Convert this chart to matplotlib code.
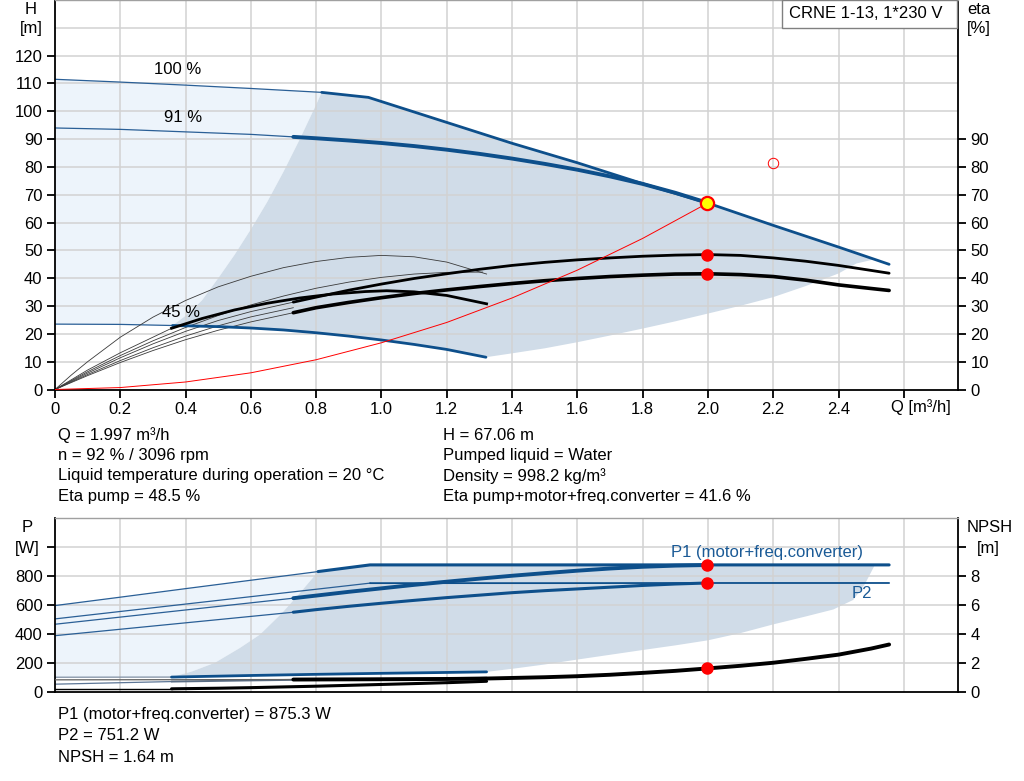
import matplotlib
matplotlib.use('Agg')
import matplotlib.pyplot as plt
from matplotlib.patches import Rectangle

plt.rcParams['font.family'] = ['Liberation Sans', 'DejaVu Sans']

# ---------------- data : top panel (H [m] / eta [%] vs Q [m3/h]) ----------------
q_h100 = [0, 0.2, 0.4, 0.6, 0.817, 0.96, 1.2, 1.4, 1.6, 1.8, 2.0, 2.2, 2.4, 2.555]
h_h100 = [111.5, 110.5, 109.4, 108.2, 106.8, 105.0, 96.0, 88.5, 81.5, 74.0, 67.0, 59.0, 51.2, 45.0]
n_thin_h100 = 5

q_h91 = [0, 0.2, 0.4, 0.6, 0.73, 0.8, 0.9, 1.0, 1.1, 1.2, 1.3, 1.4, 1.5, 1.6, 1.7, 1.8, 1.9, 2.0]
h_h91 = [94.0, 93.5, 92.6, 91.7, 90.8, 90.3, 89.5, 88.6, 87.5, 86.2, 84.7, 83.0, 81.1, 79.0, 76.6, 73.9, 70.7, 67.06]
n_thin_h91 = 5

q_h45 = [0, 0.2, 0.36, 0.5, 0.6, 0.7, 0.8, 0.9, 1.0, 1.1, 1.2, 1.32]
h_h45 = [23.5, 23.4, 23.0, 22.6, 22.1, 21.4, 20.4, 19.2, 17.8, 16.2, 14.4, 11.6]
n_thin_h45 = 3

# operating area boundaries (top)
q_area_left = [0.36, 0.40, 0.45, 0.50, 0.55, 0.60, 0.65, 0.70, 0.75, 0.80, 0.817]
h_area_left = [23.0, 26.5, 32.0, 40.0, 48.4, 57.6, 67.4, 78.3, 90.0, 102.4, 106.8]
q_area_right = [2.51, 2.455, 2.4, 2.3, 2.2, 2.1, 2.0, 1.9, 1.8, 1.7, 1.6, 1.5, 1.4]
h_area_right = [46.8, 45.3, 41.7, 37.2, 33.2, 30.1, 27.3, 24.5, 21.9, 19.4, 17.0, 14.8, 13.0]

# efficiency curves
q_eta45_pump = [0, 0.05, 0.1, 0.2, 0.3, 0.4, 0.5, 0.6, 0.7, 0.8, 0.9, 1.0, 1.1, 1.2, 1.322]
e_eta45_pump = [0, 5.2, 10.0, 18.8, 26.0, 32.0, 36.9, 40.7, 43.8, 46.0, 47.5, 48.2, 47.7, 45.8, 41.5]

q_eta45_tot_thin = [0, 0.1, 0.2, 0.3, 0.357]
e_eta45_tot_thin = [0, 7.0, 13.2, 18.8, 22.0]
q_eta45_tot = [0.357, 0.45, 0.55, 0.65, 0.75, 0.85, 0.95, 1.016, 1.1, 1.2, 1.322]
e_eta45_tot = [22.0, 25.5, 28.6, 31.0, 32.9, 34.3, 35.2, 35.5, 35.1, 33.8, 30.8]

q_eta91_pump_thin = [0, 0.1, 0.2, 0.3, 0.4, 0.5, 0.6, 0.73]
e_eta91_pump_thin = [0, 5.9, 11.4, 16.4, 20.9, 24.8, 28.0, 31.4]
q_eta91_pump = [0.73, 0.8, 0.9, 1.0, 1.1, 1.2, 1.3, 1.4, 1.5, 1.6, 1.7, 1.8, 1.9, 2.0,
                2.1, 2.2, 2.3, 2.4, 2.5, 2.555]
e_eta91_pump = [31.4, 33.2, 35.7, 37.9, 39.9, 41.6, 43.2, 44.6, 45.7, 46.6, 47.3, 47.9, 48.3, 48.5,
                48.2, 47.3, 46.1, 44.6, 42.8, 41.8]

q_eta91_tot_thin = [0, 0.1, 0.2, 0.3, 0.4, 0.5, 0.6, 0.73]
e_eta91_tot_thin = [0, 5.0, 9.7, 14.0, 17.9, 21.3, 24.3, 27.6]
q_eta91_tot = [0.73, 0.8, 0.9, 1.0, 1.1, 1.2, 1.3, 1.4, 1.5, 1.6, 1.7, 1.8, 1.9, 2.0,
               2.1, 2.2, 2.3, 2.4, 2.5, 2.555]
e_eta91_tot = [27.6, 29.4, 31.3, 33.0, 34.5, 35.8, 37.0, 38.1, 39.1, 39.9, 40.6, 41.1, 41.5, 41.6,
               41.3, 40.6, 39.3, 37.6, 36.3, 35.6]

q_eta_aux1 = [0, 0.1, 0.2, 0.3, 0.4, 0.5, 0.6, 0.7, 0.8, 0.9, 1.0, 1.1, 1.2, 1.31]
e_eta_aux1 = [0, 6.4, 12.2, 17.5, 22.3, 26.6, 30.4, 33.6, 36.4, 38.6, 40.3, 41.5, 42.1, 42.2]
q_eta_aux2 = [0, 0.1, 0.2, 0.3, 0.4, 0.5, 0.6, 0.73]
e_eta_aux2 = [0, 5.4, 10.4, 15.0, 19.2, 22.9, 26.1, 29.4]

# system curve
q_sys = [0, 0.2, 0.4, 0.6, 0.8, 1.0, 1.2, 1.4, 1.6, 1.8, 2.0]
h_sys = [0, 0.7, 2.7, 6.0, 10.7, 16.8, 24.1, 32.9, 42.9, 54.3, 67.06]

# duty point
q_duty = 1.997
h_duty = 67.06
eta_pump_duty = 48.5
eta_tot_duty = 41.6
q_open = 2.2
h_open = 81.5

# ---------------- data : bottom panel (P [W] / NPSH [m]) ----------------
q_p1_100 = [0, 0.2, 0.4, 0.6, 0.806, 0.965, 1.5, 2.0, 2.555]
p_p1_100 = [595, 653, 712, 770, 830, 876, 876, 876, 876]
n_thin_p1_100 = 5

q_p2_100 = [0, 0.965, 1.5, 2.0, 2.555]
p_p2_100 = [503, 750, 750, 751, 751]
n_thin_p2_100 = 2

q_p1_91 = [0, 0.73, 0.8, 0.9, 1.0, 1.1, 1.2, 1.3, 1.4, 1.5, 1.6, 1.7, 1.8, 1.9, 2.0]
p_p1_91 = [466, 646, 664, 690, 714, 738, 760, 781, 801, 819, 836, 851, 863, 871, 875.3]
n_thin_p1_91 = 2

q_p2_91 = [0, 0.73, 0.8, 0.9, 1.0, 1.1, 1.2, 1.3, 1.4, 1.5, 1.6, 1.7, 1.8, 1.9, 2.0]
p_p2_91 = [387, 549, 567, 590, 611, 631, 650, 667, 684, 698, 710, 722, 734, 744, 751.2]
n_thin_p2_91 = 2

q_p1_45 = [0, 0.357, 0.6, 0.8, 1.0, 1.2, 1.322]
p_p1_45 = [100, 101, 112, 120, 127, 133, 137]
n_thin_p1_45 = 2

q_p2_45 = [0, 0.357, 0.6, 0.8, 1.0, 1.2, 1.322]
p_p2_45 = [52, 70, 78, 84, 89, 94, 97]
n_thin_p2_45 = 2

q_npsh45 = [0, 0.357, 0.5, 0.6, 0.7, 0.8, 0.9, 1.0, 1.1, 1.21, 1.322]
npsh45 = [0.2, 0.2, 0.24, 0.28, 0.33, 0.38, 0.44, 0.5, 0.56, 0.63, 0.72]
n_thin_npsh45 = 2

q_npsh91 = [0, 0.73, 1.0, 1.2, 1.3, 1.4, 1.5, 1.6, 1.7, 1.8, 1.9, 2.0, 2.1, 2.2, 2.3, 2.4, 2.5, 2.555]
npsh91 = [0.82, 0.84, 0.86, 0.88, 0.9, 0.95, 1.0, 1.07, 1.17, 1.3, 1.44, 1.61, 1.79, 2.0, 2.27, 2.56, 2.98, 3.26]
n_thin_npsh91 = 2

q_parea_left = [0.357, 0.42, 0.49, 0.567, 0.628, 0.694, 0.745, 0.791, 0.806]
p_parea_left = [101, 140, 200, 303, 395, 540, 668, 790, 830]
q_parea_right = [2.51, 2.48, 2.445, 2.384, 2.3, 2.2, 2.1, 2.0, 1.9, 1.8, 1.7, 1.6, 1.5, 1.4]
p_parea_right = [870, 740, 634, 568, 520, 465, 405, 355, 320, 288, 255, 222, 188, 158]

p1_duty = 875.3
p2_duty = 751.2
npsh_duty = 1.64

# ---------------- styling ----------------
BLUE = '#0d4f8b'
THIN_BLUE = '#2a5f96'
LIGHT = '#edf4fb'
DARK = '#d0dce8'
GRID = '#d2d2d2'
FS = 12

W, HPX = 1024, 781
def fx(px):
    return px / W
def fy(py):
    return 1 - py / HPX

fig = plt.figure(figsize=(10.24, 7.81), dpi=100)

def style_axes(a):
    a.spines['top'].set_color('#a0a0a0')
    a.spines['top'].set_linewidth(1.0)
    for s in ('left', 'right', 'bottom'):
        a.spines[s].set_color('black')
        a.spines[s].set_linewidth(1.3)
    a.set_axisbelow(True)

# ================= TOP PANEL =================
ax = fig.add_axes([fx(55), fy(389.5), fx(958) - fx(55), 389.5 / HPX])
ax.set_xlim(0, 2.766)
ax.set_ylim(0, 140)
style_axes(ax)

xt = [0, 0.2, 0.4, 0.6, 0.8, 1.0, 1.2, 1.4, 1.6, 1.8, 2.0, 2.2, 2.4, 2.6]
xtl = ['0', '0.2', '0.4', '0.6', '0.8', '1.0', '1.2', '1.4', '1.6', '1.8', '2.0', '2.2', '2.4', '']
ax.set_xticks(xt)
ax.set_xticklabels(xtl)
ax.set_yticks(list(range(0, 121, 10)))
ax.tick_params(direction='out', length=6, width=1.3, labelsize=FS, pad=3, colors='black')
for x in xt[1:]:
    ax.axvline(x, color=GRID, lw=1.1, zorder=0.5)
for y in range(10, 131, 10):
    ax.axhline(y, color=GRID, lw=1.1, zorder=0.5)

# light area
lq = q_h100[:n_thin_h100] + q_area_left[::-1] + q_h45[:n_thin_h45][::-1]
lh = h_h100[:n_thin_h100] + h_area_left[::-1] + h_h45[:n_thin_h45][::-1]
ax.fill(lq, lh, color=LIGHT, lw=0, zorder=0.2)
# operating area
dq = q_area_left + q_h100[n_thin_h100:-1] + q_area_right + q_h45[n_thin_h45 - 1:][::-1]
dh = h_area_left + h_h100[n_thin_h100:-1] + h_area_right + h_h45[n_thin_h45 - 1:][::-1]
ax.fill(dq, dh, color=DARK, lw=0, zorder=0.3)

def split_plot(a, q, v, n, color, thin_color, lw, thin_lw=0.9, z=3):
    a.plot(q[:n], v[:n], color=thin_color, lw=thin_lw, zorder=2)
    a.plot(q[n - 1:], v[n - 1:], color=color, lw=lw, zorder=z,
           solid_capstyle='round', solid_joinstyle='round')

# H curves
split_plot(ax, q_h100, h_h100, n_thin_h100, BLUE, THIN_BLUE, 2.0)
split_plot(ax, q_h91, h_h91, n_thin_h91, BLUE, THIN_BLUE, 2.8)
split_plot(ax, q_h45, h_h45, n_thin_h45, BLUE, THIN_BLUE, 2.0)

# eta curves
thin_k = dict(color='#3a3a3a', lw=0.6, zorder=2)
ax.plot(q_eta45_pump, e_eta45_pump, **thin_k)
ax.plot(q_eta_aux1, e_eta_aux1, **thin_k)
ax.plot(q_eta_aux2, e_eta_aux2, **thin_k)
ax.plot(q_eta45_tot_thin, e_eta45_tot_thin, **thin_k)
ax.plot(q_eta91_pump_thin, e_eta91_pump_thin, **thin_k)
ax.plot(q_eta91_tot_thin, e_eta91_tot_thin, **thin_k)
ax.plot(q_eta45_tot, e_eta45_tot, color='black', lw=2.0, zorder=3, solid_joinstyle='round')
ax.plot(q_eta91_pump, e_eta91_pump, color='black', lw=2.0, zorder=3,
        solid_capstyle='round', solid_joinstyle='round')
ax.plot(q_eta91_tot, e_eta91_tot, color='black', lw=2.6, zorder=3,
        solid_capstyle='round', solid_joinstyle='round')

# system curve
ax.plot(q_sys, h_sys, color='red', lw=0.7, zorder=3.5)

# points
ax.plot([q_duty], [h_duty], 'o', ms=9.5, mfc='#ffff00', mec='red', mew=1.6, zorder=6)
ax.plot([q_duty, q_duty], [eta_pump_duty, eta_tot_duty], 'o', ms=8, color='red', mec='red', zorder=6)
ax.plot([q_open], [h_open], 'o', ms=7.5, mfc='none', mec='red', mew=0.7, zorder=6)

# right eta axis
ax2 = ax.twinx()
ax2.set_ylim(0, 140)
ax2.set_yticks(list(range(0, 91, 10)))
ax2.tick_params(direction='out', length=6, width=1.3, labelsize=FS, pad=3)
for s in ax2.spines.values():
    s.set_visible(False)

# curve labels
fig.text(fx(178), fy(70), '100 %', ha='center', va='center', fontsize=FS)
fig.text(fx(183), fy(117), '91 %', ha='center', va='center', fontsize=FS)
fig.text(fx(181), fy(313), '45 %', ha='center', va='center', fontsize=FS)

# axis headers
fig.text(fx(31), fy(9), 'H', ha='center', va='center', fontsize=FS)
fig.text(fx(31), fy(29), '[m]', ha='center', va='center', fontsize=FS)
fig.text(fx(979), fy(9), 'eta', ha='center', va='center', fontsize=FS)
fig.text(fx(979), fy(29), '[%]', ha='center', va='center', fontsize=FS)
fig.text(fx(921), fy(407), 'Q [m³/h]', ha='center', va='center', fontsize=FS)

# title box
fig.patches.append(Rectangle((fx(782), fy(28)), fx(957) - fx(782), 28 / HPX,
                             transform=fig.transFigure, facecolor='white',
                             edgecolor='#808080', lw=1.0, zorder=10))
fig.text(fx(866), fy(14), 'CRNE 1-13, 1*230 V', ha='center', va='center', fontsize=FS, zorder=11)

# info text
info_left = ['Q = 1.997 m³/h', 'n = 92 % / 3096 rpm',
             'Liquid temperature during operation = 20 °C', 'Eta pump = 48.5 %']
info_right = ['H = 67.06 m', 'Pumped liquid = Water', 'Density = 998.2 kg/m³',
              'Eta pump+motor+freq.converter = 41.6 %']
info_y = [435, 455.5, 476, 497]
for t, y in zip(info_left, info_y):
    fig.text(fx(58), fy(y), t, ha='left', va='center', fontsize=FS)
for t, y in zip(info_right, info_y):
    fig.text(fx(443), fy(y), t, ha='left', va='center', fontsize=FS)

# ================= BOTTOM PANEL =================
bx = fig.add_axes([fx(55), fy(691.7), fx(958) - fx(55), 173.7 / HPX])
bx.set_xlim(0, 2.766)
bx.set_ylim(0, 1200)
style_axes(bx)
bx.set_xticks(xt)
bx.set_xticklabels([])
bx.tick_params(axis='x', length=0)
bx.set_yticks([0, 200, 400, 600, 800, 1000])
bx.set_yticklabels(['0', '200', '400', '600', '800', ''])
bx.tick_params(axis='y', direction='out', length=6, width=1.3, labelsize=FS, pad=3)
for x in xt[1:]:
    bx.axvline(x, color=GRID, lw=1.1, zorder=0.5)
for y in [200, 400, 600, 800, 1000]:
    bx.axhline(y, color=GRID, lw=1.1, zorder=0.5)

# light area
lq = q_p1_100[:n_thin_p1_100] + q_parea_left[::-1] + q_p1_45[:n_thin_p1_45][::-1]
lp = p_p1_100[:n_thin_p1_100] + p_parea_left[::-1] + p_p1_45[:n_thin_p1_45][::-1]
bx.fill(lq, lp, color=LIGHT, lw=0, zorder=0.2)
# operating area
dq = q_parea_left + q_p1_100[n_thin_p1_100:-1] + q_parea_right + q_p1_45[n_thin_p1_45 - 1:][::-1]
dp = p_parea_left + p_p1_100[n_thin_p1_100:-1] + p_parea_right + p_p1_45[n_thin_p1_45 - 1:][::-1]
bx.fill(dq, dp, color=DARK, lw=0, zorder=0.3)

split_plot(bx, q_p1_100, p_p1_100, n_thin_p1_100, BLUE, THIN_BLUE, 2.2)
split_plot(bx, q_p2_100, p_p2_100, n_thin_p2_100, BLUE, THIN_BLUE, 1.3, z=2.5)
split_plot(bx, q_p1_91, p_p1_91, n_thin_p1_91, BLUE, THIN_BLUE, 2.8)
split_plot(bx, q_p2_91, p_p2_91, n_thin_p2_91, BLUE, THIN_BLUE, 2.2)
split_plot(bx, q_p1_45, p_p1_45, n_thin_p1_45, BLUE, '#7f8fa3', 2.0)
split_plot(bx, q_p2_45, p_p2_45, n_thin_p2_45, '#5a6e86', '#5d7696', 1.4)

# NPSH curves on right axis (same pixel scale: 1 m = 100 W)
bx2 = bx.twinx()
bx2.set_ylim(0, 12)
bx2.set_yticks([0, 2, 4, 6, 8, 10])
bx2.set_yticklabels(['0', '2', '4', '6', '8', ''])
bx2.tick_params(direction='out', length=6, width=1.3, labelsize=FS, pad=3)
for s in bx2.spines.values():
    s.set_visible(False)
split_plot(bx2, q_npsh45, npsh45, n_thin_npsh45, 'black', 'black', 2.2, thin_lw=1.0)
split_plot(bx2, q_npsh91, npsh91, n_thin_npsh91, 'black', '#606060', 2.8, thin_lw=0.9)

bx.plot([q_duty, q_duty], [p1_duty, p2_duty], 'o', ms=8, color='red', zorder=6)
bx2.plot([q_duty], [npsh_duty], 'o', ms=8, color='red', zorder=6)

fig.text(fx(767), fy(553), 'P1 (motor+freq.converter)', ha='center', va='center', fontsize=FS, color='#1a5a96')
fig.text(fx(862), fy(594), 'P2', ha='center', va='center', fontsize=FS, color='#1a5a96')

fig.text(fx(27), fy(527), 'P', ha='center', va='center', fontsize=FS)
fig.text(fx(27), fy(548), '[W]', ha='center', va='center', fontsize=FS)
fig.text(fx(990), fy(527), 'NPSH', ha='center', va='center', fontsize=FS)
fig.text(fx(988), fy(548), '[m]', ha='center', va='center', fontsize=FS)

bottom_info = ['P1 (motor+freq.converter) = 875.3 W', 'P2 = 751.2 W', 'NPSH = 1.64 m']
for t, y in zip(bottom_info, [715, 736, 757]):
    fig.text(fx(58), fy(y), t, ha='left', va='center', fontsize=FS)

fig.savefig('out.png', dpi=100, facecolor='white')
